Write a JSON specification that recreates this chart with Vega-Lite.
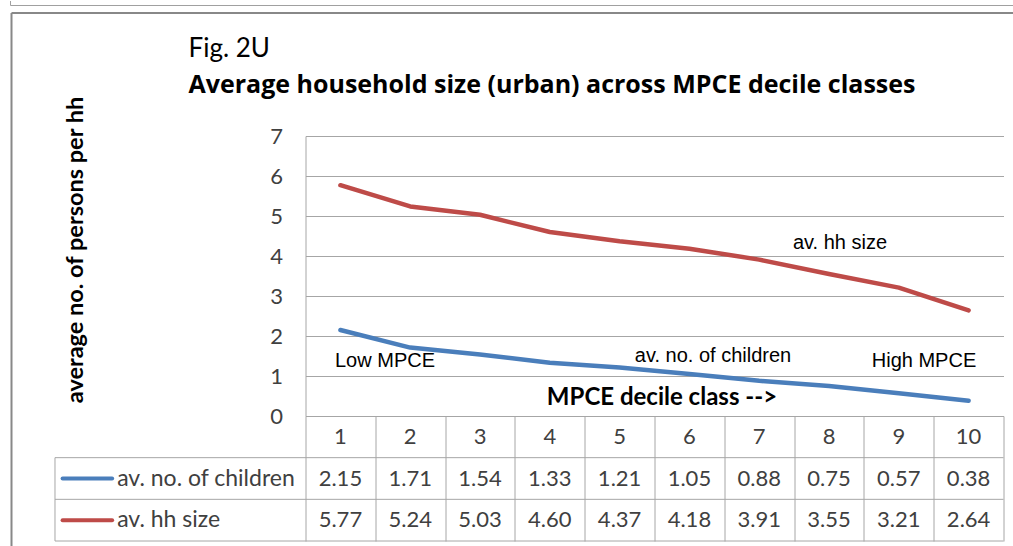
{
  "$schema": "https://vega.github.io/schema/vega-lite/v6.json",
  "background": "white",
  "padding": {"left": 9.5, "top": 0, "right": 0, "bottom": 0},
  "bounds": "flush",
  "spacing": 0,
  "config": {
    "view": {"stroke": null},
    "font": "Lato",
    "axisY": {
      "grid": true, "gridColor": "#a6a6a6", "gridWidth": 1,
      "domain": true, "domainColor": "#a6a6a6",
      "ticks": false,
      "labelPadding": 23, "labelFont": "Lato", "labelFontSize": 22, "labelColor": "#404040",
      "titleFont": "Lato", "titleFontSize": 23.5, "titleFontWeight": "bold", "titleColor": "black",
      "titlePadding": 182, "titleY": 113.5
    }
  },
  "datasets": {
    "d": [
      {"decile": 1, "series": "av. no. of children", "value": 2.15},
      {"decile": 2, "series": "av. no. of children", "value": 1.71},
      {"decile": 3, "series": "av. no. of children", "value": 1.54},
      {"decile": 4, "series": "av. no. of children", "value": 1.33},
      {"decile": 5, "series": "av. no. of children", "value": 1.21},
      {"decile": 6, "series": "av. no. of children", "value": 1.05},
      {"decile": 7, "series": "av. no. of children", "value": 0.88},
      {"decile": 8, "series": "av. no. of children", "value": 0.75},
      {"decile": 9, "series": "av. no. of children", "value": 0.57},
      {"decile": 10, "series": "av. no. of children", "value": 0.38},
      {"decile": 1, "series": "av. hh size", "value": 5.77},
      {"decile": 2, "series": "av. hh size", "value": 5.24},
      {"decile": 3, "series": "av. hh size", "value": 5.03},
      {"decile": 4, "series": "av. hh size", "value": 4.60},
      {"decile": 5, "series": "av. hh size", "value": 4.37},
      {"decile": 6, "series": "av. hh size", "value": 4.18},
      {"decile": 7, "series": "av. hh size", "value": 3.91},
      {"decile": 8, "series": "av. hh size", "value": 3.55},
      {"decile": 9, "series": "av. hh size", "value": 3.21},
      {"decile": 10, "series": "av. hh size", "value": 2.64}
    ]
  },
  "vconcat": [
    {
      "width": 698,
      "height": 280,
      "title": {
        "text": "Fig. 2U",
        "subtitle": "Average household size (urban) across MPCE decile classes",
        "anchor": "start",
        "frame": "group",
        "dx": -117,
        "dy": 28,
        "font": "Lato",
        "fontSize": 26,
        "fontWeight": "normal",
        "color": "black",
        "subtitleFont": "Open Sans",
        "subtitleFontSize": 25,
        "subtitleFontWeight": "bold",
        "subtitleColor": "black",
        "subtitlePadding": 11,
        "offset": 26
      },
      "layer": [
        {
          "data": {"name": "d"},
          "mark": {"type": "line", "strokeWidth": 4.5, "strokeCap": "round", "strokeJoin": "round"},
          "encoding": {
            "x": {"field": "decile", "type": "quantitative", "scale": {"domain": [0.5, 10.5], "nice": false}, "axis": null},
            "y": {
              "field": "value", "type": "quantitative",
              "scale": {"domain": [0, 7], "nice": false},
              "axis": {"values": [0, 1, 2, 3, 4, 5, 6, 7], "title": "average no. of persons per hh"}
            },
            "color": {
              "field": "series", "type": "nominal",
              "scale": {"domain": ["av. no. of children", "av. hh size"], "range": ["#4a7ebb", "#be4b48"]},
              "legend": null
            }
          }
        },
        {
          "data": {"values": [{}]},
          "mark": {"type": "text", "text": "Low MPCE", "font": "Liberation Sans", "fontSize": 20, "color": "black", "align": "center", "baseline": "middle"},
          "encoding": {
            "x": {"datum": 1.639, "type": "quantitative", "scale": {"domain": [0.5, 10.5], "nice": false}, "axis": null},
            "y": {"datum": 1.375, "type": "quantitative", "scale": {"domain": [0, 7], "nice": false}, "axis": {"values": [0, 1, 2, 3, 4, 5, 6, 7], "title": "average no. of persons per hh"}}
          }
        },
        {
          "data": {"values": [{}]},
          "mark": {"type": "text", "text": "av. no. of children", "font": "Liberation Sans", "fontSize": 20, "color": "black", "align": "center", "baseline": "middle"},
          "encoding": {
            "x": {"datum": 6.338, "type": "quantitative", "scale": {"domain": [0.5, 10.5], "nice": false}, "axis": null},
            "y": {"datum": 1.5, "type": "quantitative", "scale": {"domain": [0, 7], "nice": false}, "axis": {"values": [0, 1, 2, 3, 4, 5, 6, 7], "title": "average no. of persons per hh"}}
          }
        },
        {
          "data": {"values": [{}]},
          "mark": {"type": "text", "text": "High MPCE", "font": "Liberation Sans", "fontSize": 20, "color": "black", "align": "center", "baseline": "middle"},
          "encoding": {
            "x": {"datum": 9.361, "type": "quantitative", "scale": {"domain": [0.5, 10.5], "nice": false}, "axis": null},
            "y": {"datum": 1.375, "type": "quantitative", "scale": {"domain": [0, 7], "nice": false}, "axis": {"values": [0, 1, 2, 3, 4, 5, 6, 7], "title": "average no. of persons per hh"}}
          }
        },
        {
          "data": {"values": [{}]},
          "mark": {"type": "text", "text": "av. hh size", "font": "Liberation Sans", "fontSize": 20, "color": "black", "align": "center", "baseline": "middle"},
          "encoding": {
            "x": {"datum": 8.158, "type": "quantitative", "scale": {"domain": [0.5, 10.5], "nice": false}, "axis": null},
            "y": {"datum": 4.3375, "type": "quantitative", "scale": {"domain": [0, 7], "nice": false}, "axis": {"values": [0, 1, 2, 3, 4, 5, 6, 7], "title": "average no. of persons per hh"}}
          }
        },
        {
          "data": {"values": [{}]},
          "mark": {"type": "text", "text": "MPCE decile class -->", "font": "Lato", "fontSize": 24, "fontWeight": "bold", "color": "black", "align": "center", "baseline": "middle"},
          "encoding": {
            "x": {"datum": 5.607, "type": "quantitative", "scale": {"domain": [0.5, 10.5], "nice": false}, "axis": null},
            "y": {"datum": 0.45, "type": "quantitative", "scale": {"domain": [0, 7], "nice": false}, "axis": {"values": [0, 1, 2, 3, 4, 5, 6, 7], "title": "average no. of persons per hh"}}
          }
        }
      ]
    },
    {
      "width": 698,
      "height": 125,
      "layer": [
        {
          "data": {"name": "d"},
          "transform": [{"filter": "datum.series === 'av. no. of children'"}],
          "mark": {"type": "text", "font": "Lato", "fontSize": 22, "color": "#404040", "align": "center", "baseline": "middle"},
          "encoding": {
            "x": {
              "field": "decile", "type": "quantitative",
              "scale": {"domain": [0.5, 10.5], "nice": false},
              "axis": {"values": [0.5, 1.5, 2.5, 3.5, 4.5, 5.5, 6.5, 7.5, 8.5, 9.5, 10.5], "grid": true, "gridColor": "#a6a6a6", "labels": false, "ticks": false, "domain": false, "title": null}
            },
            "y": {"datum": 0.5, "type": "quantitative", "scale": {"domain": [0, 3], "nice": false, "reverse": true}, "axis": null},
            "text": {"field": "decile", "type": "quantitative"}
          }
        },
        {
          "data": {"name": "d"},
          "transform": [{"filter": "datum.series === 'av. no. of children'"}],
          "mark": {"type": "text", "font": "Lato", "fontSize": 22, "color": "#404040", "align": "center", "baseline": "middle"},
          "encoding": {
            "x": {"field": "decile", "type": "quantitative", "scale": {"domain": [0.5, 10.5], "nice": false}},
            "y": {"datum": 1.5, "type": "quantitative", "scale": {"domain": [0, 3], "nice": false, "reverse": true}, "axis": null},
            "text": {"field": "value", "type": "quantitative", "format": ".2f"}
          }
        },
        {
          "data": {"name": "d"},
          "transform": [{"filter": "datum.series === 'av. hh size'"}],
          "mark": {"type": "text", "font": "Lato", "fontSize": 22, "color": "#404040", "align": "center", "baseline": "middle"},
          "encoding": {
            "x": {"field": "decile", "type": "quantitative", "scale": {"domain": [0.5, 10.5], "nice": false}},
            "y": {"datum": 2.5, "type": "quantitative", "scale": {"domain": [0, 3], "nice": false, "reverse": true}, "axis": null},
            "text": {"field": "value", "type": "quantitative", "format": ".2f"}
          }
        },
        {
          "data": {"values": [{}]},
          "mark": {"type": "text", "text": "av. no. of children", "font": "Lato", "fontSize": 23, "color": "#404040", "align": "left", "baseline": "middle"},
          "encoding": {
            "x": {"datum": -2.198, "type": "quantitative", "scale": {"domain": [0.5, 10.5], "nice": false}},
            "y": {"datum": 1.5, "type": "quantitative", "scale": {"domain": [0, 3], "nice": false, "reverse": true}, "axis": null}
          }
        },
        {
          "data": {"values": [{}]},
          "mark": {"type": "text", "text": "av. hh size", "font": "Lato", "fontSize": 23, "color": "#404040", "align": "left", "baseline": "middle"},
          "encoding": {
            "x": {"datum": -2.198, "type": "quantitative", "scale": {"domain": [0.5, 10.5], "nice": false}},
            "y": {"datum": 2.5, "type": "quantitative", "scale": {"domain": [0, 3], "nice": false, "reverse": true}, "axis": null}
          }
        },
        {
          "data": {"values": [{}]},
          "mark": {"type": "rule", "color": "#4a7ebb", "strokeWidth": 4, "strokeCap": "round"},
          "encoding": {
            "x": {"datum": -2.98, "type": "quantitative", "scale": {"domain": [0.5, 10.5], "nice": false}},
            "x2": {"datum": -2.27},
            "y": {"datum": 1.5, "type": "quantitative", "scale": {"domain": [0, 3], "nice": false, "reverse": true}, "axis": null}
          }
        },
        {
          "data": {"values": [{}]},
          "mark": {"type": "rule", "color": "#be4b48", "strokeWidth": 4, "strokeCap": "round"},
          "encoding": {
            "x": {"datum": -2.98, "type": "quantitative", "scale": {"domain": [0.5, 10.5], "nice": false}},
            "x2": {"datum": -2.27},
            "y": {"datum": 2.5, "type": "quantitative", "scale": {"domain": [0, 3], "nice": false, "reverse": true}, "axis": null}
          }
        },
        {
          "data": {"values": [{}]},
          "mark": {"type": "rule", "color": "#a6a6a6", "strokeWidth": 1},
          "encoding": {
            "x": {"datum": -3.089, "type": "quantitative", "scale": {"domain": [0.5, 10.5], "nice": false}},
            "x2": {"datum": 10.5},
            "y": {"datum": 1, "type": "quantitative", "scale": {"domain": [0, 3], "nice": false, "reverse": true}, "axis": null}
          }
        },
        {
          "data": {"values": [{}]},
          "mark": {"type": "rule", "color": "#a6a6a6", "strokeWidth": 1},
          "encoding": {
            "x": {"datum": -3.089, "type": "quantitative", "scale": {"domain": [0.5, 10.5], "nice": false}},
            "x2": {"datum": 10.5},
            "y": {"datum": 2, "type": "quantitative", "scale": {"domain": [0, 3], "nice": false, "reverse": true}, "axis": null}
          }
        },
        {
          "data": {"values": [{}]},
          "mark": {"type": "rule", "color": "#a6a6a6", "strokeWidth": 1},
          "encoding": {
            "x": {"datum": -3.089, "type": "quantitative", "scale": {"domain": [0.5, 10.5], "nice": false}},
            "x2": {"datum": 10.5},
            "y": {"datum": 3, "type": "quantitative", "scale": {"domain": [0, 3], "nice": false, "reverse": true}, "axis": null}
          }
        },
        {
          "data": {"values": [{}]},
          "mark": {"type": "rule", "color": "#a6a6a6", "strokeWidth": 1},
          "encoding": {
            "x": {"datum": -3.089, "type": "quantitative", "scale": {"domain": [0.5, 10.5], "nice": false}},
            "y": {"datum": 1, "type": "quantitative", "scale": {"domain": [0, 3], "nice": false, "reverse": true}, "axis": null},
            "y2": {"datum": 3}
          }
        },
        {
          "data": {"values": [{}]},
          "mark": {"type": "rule", "color": "#888888", "strokeWidth": 2},
          "encoding": {
            "x": {"datum": -3.712, "type": "quantitative", "scale": {"domain": [0.5, 10.5], "nice": false}},
            "y": {"datum": -9.672, "type": "quantitative", "scale": {"domain": [0, 3], "nice": false, "reverse": true}, "axis": null},
            "y2": {"datum": 3.4}
          }
        },
        {
          "data": {"values": [{}]},
          "mark": {"type": "rule", "color": "#888888", "strokeWidth": 2},
          "encoding": {
            "x": {"datum": -3.712, "type": "quantitative", "scale": {"domain": [0.5, 10.5], "nice": false}},
            "x2": {"datum": 10.7},
            "y": {"datum": -9.672, "type": "quantitative", "scale": {"domain": [0, 3], "nice": false, "reverse": true}, "axis": null}
          }
        },
        {
          "data": {"values": [{}]},
          "mark": {"type": "rule", "color": "#a0a0a0", "strokeWidth": 1},
          "encoding": {
            "x": {"datum": -3.726, "type": "quantitative", "scale": {"domain": [0.5, 10.5], "nice": false}},
            "x2": {"datum": 10.7},
            "y": {"datum": -9.852, "type": "quantitative", "scale": {"domain": [0, 3], "nice": false, "reverse": true}, "axis": null}
          }
        },
        {
          "data": {"values": [{}]},
          "mark": {"type": "rule", "color": "#a0a0a0", "strokeWidth": 1},
          "encoding": {
            "x": {"datum": -3.726, "type": "quantitative", "scale": {"domain": [0.5, 10.5], "nice": false}},
            "y": {"datum": -9.96, "type": "quantitative", "scale": {"domain": [0, 3], "nice": false, "reverse": true}, "axis": null},
            "y2": {"datum": -9.852}
          }
        }
      ]
    }
  ]
}
